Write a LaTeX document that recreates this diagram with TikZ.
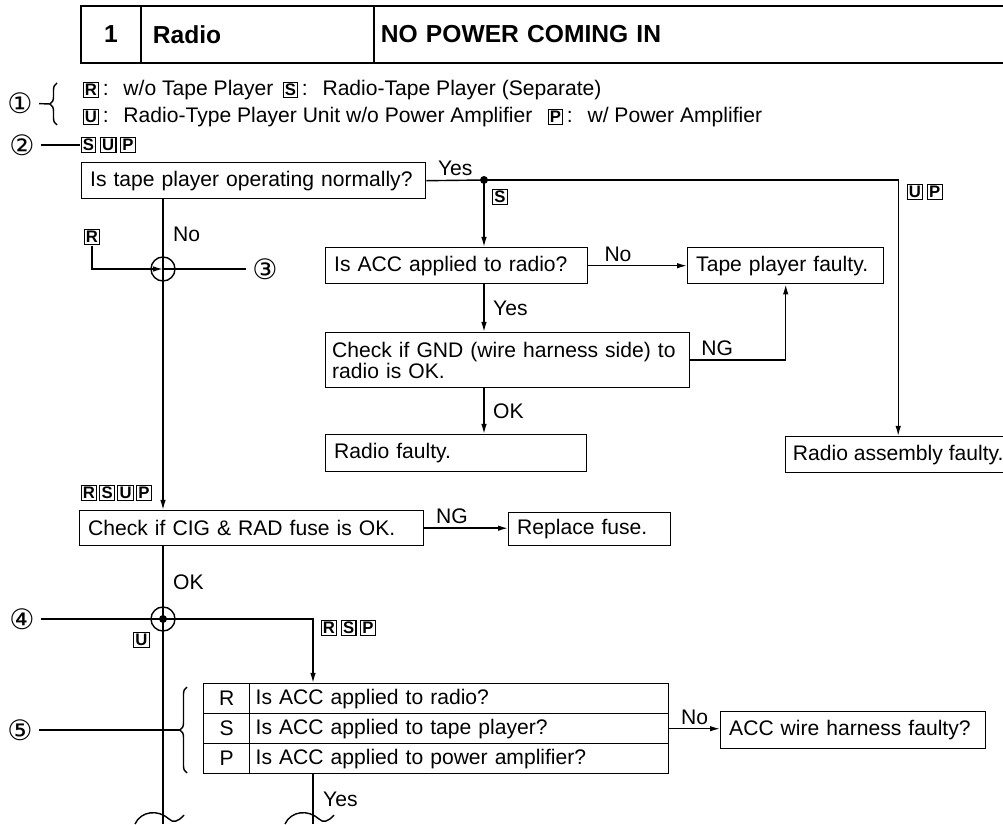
\documentclass[tikz,border=0pt]{standalone}
\usepackage{fontspec}
\setmainfont{Liberation Sans}
\newfontfamily\circfont{DejaVu Sans}
\usetikzlibrary{arrows.meta,decorations.pathreplacing}
\newcommand{\tg}[1]{{\setlength{\fboxsep}{0.7pt}\setlength{\fboxrule}{0.6pt}\fbox{\fontsize{9.5}{9.5}\selectfont\bfseries #1}}}
\newcommand{\cn}[1]{{\circfont\fontsize{16}{16}\selectfont #1}}

\begin{document}
\begin{tikzpicture}[>={Latex[length=2mm,width=1.1mm]}, font=\fontsize{12}{14.5}\selectfont, line width=0.8pt,
  hcell/.style={draw, line width=1pt, anchor=north west, minimum height=11.4mm, font=\bfseries\fontsize{14}{16}\selectfont, align=left},
  box/.style={draw, anchor=north west, align=left, inner xsep=1.7mm, inner ysep=0pt},
  cell/.style={draw, anchor=north west, minimum height=6mm, inner ysep=0pt},
  tag/.style={inner sep=0pt},
  lab/.style={inner sep=2pt},
  junc/.style={draw, circle, minimum size=4.8mm, inner sep=0pt},
  dot/.style={circle, fill, inner sep=1.6pt},
  brc/.style={decorate, decoration={brace, amplitude=1.4mm}}]
\useasboundingbox (0,0) rectangle (20.06,16.48);
% header
\node[hcell, minimum width=12mm] (hnum) at (1.6,16.38) {1};
\node[hcell, text width=41.8mm, inner xsep=2.4mm] (hsys) at (2.8,16.38) {Radio};
\node[hcell, text width=125.6mm, inner xsep=1.4mm] (htitle) at (7.46,16.38) {NO POWER COMING IN};
% legend
\node (c1) at (0.4,14.42) {\cn{①}};
\draw[brc] (1.14,13.98) -- (1.14,14.82);
\coordinate (b1) at (1.0,14.4);
\draw (c1) -- (b1);
\node[tag, anchor=west] (legR) at (1.64,14.68) {\tg{R}\,:\hspace{0.7em}w/o Tape Player};
\node[tag, anchor=west] (legS) at (5.64,14.68) {\tg{S}\,:\hspace{0.7em}Radio-Tape Player (Separate)};
\node[tag, anchor=west] (legU) at (1.64,14.14) {\tg{U}\,:\hspace{0.7em}Radio-Type Player Unit w/o Power Amplifier};
\node[tag, anchor=west] (legP) at (10.94,14.14) {\tg{P}\,:\hspace{0.7em}w/ Power Amplifier};
\node (c2) at (0.44,13.58) {\cn{②}};
\node[tag, anchor=west] (tagSUP) at (1.6,13.58) {\tg{S}\,\tg{U}\,\tg{P}};
\draw (c2) -- (tagSUP);
% upper branch
\node[box, text width=65.4mm, minimum height=7.2mm] (q1) at (1.62,13.24) {Is tape player operating normally?};
\node[dot] (sp) at (9.68,12.88) {};
\node[box, minimum width=45mm, minimum height=7.2mm, inner xsep=1.2mm] (rasm) at (15.7,7.76) {Radio assembly faulty.};
\draw (q1.east) -- node[lab, above] (yes1) {Yes} (sp.center);
\draw[->] (sp.center) -| (rasm.north);
\node[tag] (tagS) at (10.0,12.54) {\tg{S}};
\node[tag, anchor=west] (tagUP) at (18.12,12.64) {\tg{U}\,\tg{P}};
\node[box, text width=49mm, minimum height=7.2mm] (acc) at (6.5,11.54) {Is ACC applied to radio?};
\node[box, text width=35.8mm, minimum height=7.2mm] (tape) at (13.74,11.54) {Tape player faulty.};
\node[box, text width=70.2mm, inner xsep=1.3mm, minimum height=11mm, font=\fontsize{12}{11}\selectfont] (gnd) at (6.5,9.84) {Check if GND (wire harness side) to\\radio is OK.};
\node[box, text width=48.8mm, minimum height=7.4mm] (rfault) at (6.5,7.8) {Radio faulty.};
\draw[->] (sp.center) -- (sp |- acc.north);
\draw[->] (acc.east) -- node[lab, above, pos=0.3] (no2) {No} (tape.west);
\draw[->] (acc.south -| sp) -- node[lab, right=1mm] (yes2) {Yes} (gnd.north -| sp);
\draw[->] (gnd.east) -| node[lab, above, pos=0.14] (ng1) {NG} (tape.south);
\draw[->] (gnd.south -| sp) -- node[lab, right=1mm] (ok1) {OK} (rfault.north -| sp);
% main line
\node[junc] (j3) at (3.26,11.1) {};
\node (c3) at (5.3,11.1) {\cn{③}};
\node[tag] (tagR) at (1.84,11.74) {\tg{R}};
\node[box, text width=65.4mm, minimum height=7mm] (cig) at (1.58,6.28) {Check if CIG \& RAD fuse is OK.};
\node[tag, anchor=west] (tagRSUP) at (1.6,6.62) {\tg{R}\kern1.2pt\tg{S}\kern1.2pt\tg{U}\kern1.2pt\tg{P}};
\node[box, text width=29mm, minimum height=6.6mm] (fuse) at (10.16,6.24) {Replace fuse.};
\draw (q1.south -| j3) -- node[lab, right=1.2mm] (no1) {No} (j3.center);
\draw[->] (tagR) |- (j3.center);
\draw (j3.center) -- (c3);
\draw[->] (j3.center) -- (cig.north -| j3);
\draw[->] (cig.east) -- node[lab, above, pos=0.33] (ng2) {NG} (cig.east -| fuse.west);
% lower part
\node[junc] (j4) at (3.26,4.1) {};
\node[dot] (j4d) at (j4) {};
\node (c4) at (0.44,4.1) {\cn{④}};
\coordinate (bot1) at (3.26,0);
\coordinate (xb) at (6.26,0);
\node[tag] (tagU) at (2.83,3.68) {\tg{U}};
\node[tag, anchor=west] (tagRSP) at (6.4,3.92) {\tg{R}\,\tg{S}\,\tg{P}};
\node[cell, minimum width=9.2mm] (kR) at (4.06,2.82) {R};
\node[cell, text width=81.4mm, inner xsep=1.2mm, align=left] (qR) at (4.98,2.82) {Is ACC applied to radio?};
\node[cell, minimum width=9.2mm] (kS) at (4.06,2.22) {S};
\node[cell, text width=81.4mm, inner xsep=1.2mm, align=left] (qS) at (4.98,2.22) {Is ACC applied to tape player?};
\node[cell, minimum width=9.2mm] (kP) at (4.06,1.62) {P};
\node[cell, text width=81.4mm, inner xsep=1.2mm, align=left] (qP) at (4.98,1.62) {Is ACC applied to power amplifier?};
\node[box, text width=49.6mm, minimum height=7.4mm] (wire) at (14.4,2.26) {ACC wire harness faulty?};
\draw (cig.south -| j4) -- node[lab, right=1.2mm] (ok2) {OK} (j4.center);
\draw (c4) -- (j4.center);
\draw (j4.center) -- (bot1);
\draw[->] (j4.center) -| (xb |- qR.north);
\draw[->] (qS.east) -- node[lab, above] (no3) {No} (qS.east -| wire.west);
\draw (qP.south -| xb) -- node[lab, right=1.2mm] (yes3) {Yes} (xb);
\node (c5) at (0.4,1.88) {\cn{⑤}};
\draw[brc] (3.74,1.02) -- (3.74,2.74);
\coordinate (b5) at (3.6,1.88);
\draw (c5) -- (b5);
% break marks
\draw (2.7,0) .. controls (2.82,0.26) and (3.16,0.3) .. (3.38,0.1) .. controls (3.46,0.02) and (3.56,0.04) .. (3.68,0.18);
\draw (5.7,0) .. controls (5.82,0.26) and (6.16,0.3) .. (6.38,0.1) .. controls (6.46,0.02) and (6.56,0.04) .. (6.68,0.18);
\end{tikzpicture}
\end{document}
